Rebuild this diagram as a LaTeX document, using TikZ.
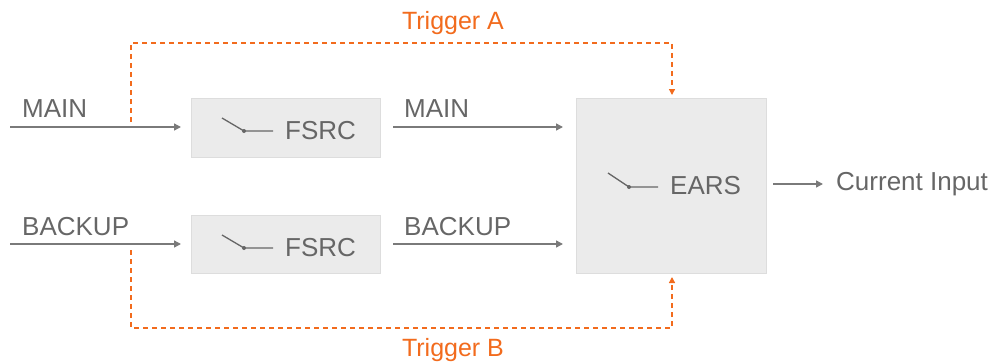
\documentclass[tikz,border=0pt]{standalone}
\usepackage{fontspec}
\setmainfont{Liberation Sans}
\usetikzlibrary{arrows.meta}
\definecolor{boxfill}{HTML}{EBEBEB}
\definecolor{boxline}{HTML}{DDDDDD}
\definecolor{txt}{HTML}{666666}
\definecolor{wire}{HTML}{7A7A7A}
\definecolor{trig}{HTML}{F26B1D}
\tikzset{
  blk/.style={draw=boxline, fill=boxfill, line width=1pt, inner sep=0pt},
  lbl/.style={text=txt, font=\fontsize{26}{28}\selectfont, inner sep=0pt},
  tlbl/.style={text=trig, font=\fontsize{25}{27}\selectfont, inner sep=0pt},
  wirearrow/.style={draw=wire, line width=1.4pt, -{Triangle[length=7pt,width=7pt]}},
  trigline/.style={draw=trig, line width=1.3pt, dash pattern=on 5pt off 4pt},
  trigarrow/.style={trigline, -{Triangle[length=6pt,width=6pt]}},
  sw/.style={draw=txt, line width=1.3pt},
}
\begin{document}
\begin{tikzpicture}[x=1pt,y=-1pt]
\useasboundingbox (0,0) rectangle (996,364);
% boxes
\node[blk, minimum width=189pt, minimum height=59pt, anchor=north west] (f1) at (191,98) {};
\node[blk, minimum width=189pt, minimum height=58pt, anchor=north west] (f2) at (191,215) {};
\node[blk, minimum width=190pt, minimum height=175pt, anchor=north west] (ea) at (576,98) {};
% switch icons and names
\coordinate (s1a) at (222,118); \coordinate (s1b) at (244,131); \coordinate (s1c) at (273,131);
\draw[sw] (s1a) -- (s1b) -- (s1c); \fill[txt] (s1b) circle (2pt);
\node[lbl, anchor=west] (f1t) at (285,131) {FSRC};
\coordinate (s2a) at (222,235); \coordinate (s2b) at (244,248); \coordinate (s2c) at (273,248);
\draw[sw] (s2a) -- (s2b) -- (s2c); \fill[txt] (s2b) circle (2pt);
\node[lbl, anchor=west] (f2t) at (285,248) {FSRC};
\coordinate (s3a) at (608,173); \coordinate (s3b) at (629,187); \coordinate (s3c) at (658,187);
\draw[sw] (s3a) -- (s3b) -- (s3c); \fill[txt] (s3b) circle (2pt);
\node[lbl, anchor=west] (eat) at (670,186) {EARS};
% inputs
\coordinate (in1) at (10,127); \coordinate (in1e) at (181,127);
\coordinate (in2) at (10,244); \coordinate (in2e) at (181,244);
\draw[wirearrow] (in1) -- (in1e);
\draw[wirearrow] (in2) -- (in2e);
\node[lbl, anchor=west] (l1) at (22,109) {MAIN};
\node[lbl, anchor=west] (l2) at (22,227) {BACKUP};
% middle
\coordinate (m1) at (393,127); \coordinate (m1e) at (563,127);
\coordinate (m2) at (393,244); \coordinate (m2e) at (563,244);
\draw[wirearrow] (m1) -- (m1e);
\draw[wirearrow] (m2) -- (m2e);
\node[lbl, anchor=west] (l3) at (404,109) {MAIN};
\node[lbl, anchor=west] (l4) at (404,227) {BACKUP};
% output
\coordinate (o1) at (773,184); \coordinate (o1e) at (823,184);
\draw[wirearrow] (o1) -- (o1e);
\node[lbl, anchor=west] (out) at (836,184) {Current Input};
% triggers
\coordinate (ta) at (131,122); \coordinate (tae) at (672,95);
\draw[trigarrow] (ta) -- (131,43) -- (672,43) -- (tae);
\node[tlbl] (tal) at (453,23) {Trigger A};
\coordinate (tb) at (131,250); \coordinate (tbe) at (672,277);
\draw[trigarrow] (tb) -- (131,328) -- (672,328) -- (tbe);
\node[tlbl] (tbl) at (453,350) {Trigger B};
\end{tikzpicture}
\end{document}
